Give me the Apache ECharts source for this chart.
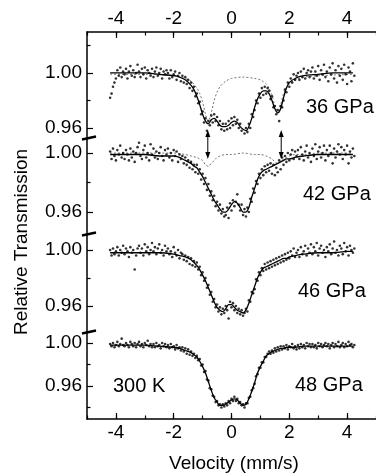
<!DOCTYPE html>
<html>
<head>
<meta charset="utf-8">
<script src="https://cdn.jsdelivr.net/npm/echarts@6/dist/echarts.min.js"></script>
<style>
  html, body { margin: 0; padding: 0; background: #fff; }
  #chart { width: 376px; height: 475px; }
</style>
</head>
<body>
<div id="chart"></div>
<script>
// velocity of every measured channel (mm/s)
const velocity = [
  -4.2,-4.15,-4.1,-4.05,-4,-3.95,-3.9,-3.85,-3.8,-3.75,
  -3.7,-3.65,-3.6,-3.55,-3.5,-3.45,-3.4,-3.35,-3.3,-3.25,
  -3.2,-3.15,-3.1,-3.05,-3,-2.95,-2.9,-2.85,-2.8,-2.75,
  -2.7,-2.65,-2.6,-2.55,-2.5,-2.45,-2.4,-2.35,-2.3,-2.25,
  -2.2,-2.15,-2.1,-2.05,-2,-1.95,-1.9,-1.85,-1.8,-1.75,
  -1.7,-1.65,-1.6,-1.55,-1.5,-1.45,-1.4,-1.35,-1.3,-1.25,
  -1.2,-1.15,-1.1,-1.05,-1,-0.95,-0.9,-0.85,-0.8,-0.75,
  -0.7,-0.65,-0.6,-0.55,-0.5,-0.45,-0.4,-0.35,-0.3,-0.25,
  -0.2,-0.15,-0.1,-0.05,0,0.05,0.1,0.15,0.2,0.25,
  0.3,0.35,0.4,0.45,0.5,0.55,0.6,0.65,0.7,0.75,
  0.8,0.85,0.9,0.95,1,1.05,1.1,1.15,1.2,1.25,
  1.3,1.35,1.4,1.45,1.5,1.55,1.6,1.65,1.7,1.75,
  1.8,1.85,1.9,1.95,2,2.05,2.1,2.15,2.2,2.25,
  2.3,2.35,2.4,2.45,2.5,2.55,2.6,2.65,2.7,2.75,
  2.8,2.85,2.9,2.95,3,3.05,3.1,3.15,3.2,3.25,
  3.3,3.35,3.4,3.45,3.5,3.55,3.6,3.65,3.7,3.75,
  3.8,3.85,3.9,3.95,4,4.05,4.1,4.15,4.2,4.25
];

// measured transmission, in thousandths
const pts36 = [
  982,985,990,993,996,1002,998,1004,997,1001,
  999,1003,996,1001,1005,998,1002,997,1000,1006,
  1001,997,1003,999,1004,996,1002,1000,998,1003,
  997,1001,1004,998,1000,1003,996,1001,999,1002,
  1000,996,1002,997,999,1001,995,998,1000,994,
  998,993,997,992,995,989,993,987,990,983,
  985,978,979,970,972,964,967,958,965,962,
  969,964,970,965,968,962,965,959,963,958,
  963,959,965,960,967,962,968,963,966,960,
  963,958,952,956,960,957,963,960,970,968,
  973,980,978,985,982,989,984,990,985,989,
  987,981,983,975,976,970,973,965,976,975,
  980,988,986,993,990,996,993,999,995,998,
  1000,995,1001,997,1003,996,1000,1002,997,1001,
  1004,996,1001,998,1005,995,1002,999,1006,997,
  1001,994,1004,999,1007,996,1002,993,1005,998,
  1003,995,1006,999,992,1004,1001,994,1007,998
];
const pts42 = [
  1001,996,1003,998,995,1002,999,1005,997,1000,
  996,1002,999,995,1003,997,1001,994,1000,1004,
  1007,998,996,1002,1005,997,1000,995,1006,999,
  1003,997,1001,996,1000,1004,998,995,1002,999,
  1003,997,1000,995,1002,998,1001,994,999,996,
  998,993,997,992,995,990,994,989,992,987,
  992,986,989,982,986,979,983,975,979,971,
  974,968,971,964,967,961,965,959,962,957,
  958,963,956,966,961,968,964,967,972,965,
  961,965,958,962,957,963,960,969,967,976,
  973,981,979,986,983,989,985,991,987,992,
  988,993,986,992,985,990,987,995,989,997,
  992,998,994,1000,995,999,1002,996,1001,998,
  1002,996,1004,999,995,1001,1005,997,1000,994,
  1003,998,1006,996,1001,1004,997,1000,1005,995,
  1002,998,1005,1000,993,1003,997,1001,1006,999,
  1004,996,1002,999,1005,993,1001,997,1003,998
];
const pts46 = [
  1000,996,1001,997,999,1002,996,1000,998,1003,
  997,1001,999,995,1002,998,1000,986,996,1001,
  1003,998,1001,996,1004,999,1002,997,1000,1005,
  999,1002,997,1001,1004,998,1000,996,1003,999,
  1001,997,999,995,1002,998,996,1000,994,998,
  997,993,996,992,995,990,994,989,992,988,
  991,986,988,982,984,978,980,973,975,968,
  970,963,965,959,961,956,959,954,958,955,
  960,957,951,963,959,962,957,960,955,958,
  954,957,953,955,958,956,964,963,970,969,
  972,979,978,984,982,987,985,990,986,991,
  987,992,988,993,989,994,990,995,991,996,
  992,997,993,998,994,999,996,1001,995,998,
  1000,995,1002,997,999,1003,996,1001,998,1004,
  997,1002,999,1005,996,1001,1003,998,1000,995,
  1002,999,1004,997,1001,1006,998,1000,996,1003,
  1001,997,1005,999,1002,996,1003,1000,998,1001
];
const pts48 = [
  999,997,1000,996,998,1001,997,999,1004,998,
  997,1000,998,996,1001,999,997,1000,996,999,
  1001,997,999,996,1000,998,1002,997,999,996,
  999,996,1000,997,998,995,1000,997,999,996,
  998,995,999,996,997,994,998,995,996,993,
  996,992,995,990,994,989,992,988,990,986,
  988,984,985,979,980,973,974,966,965,958,
  957,951,950,945,946,942,943,940,943,941,
  944,942,946,944,948,946,950,946,948,944,
  945,942,943,940,944,944,949,950,956,958,
  962,969,971,977,977,982,982,987,987,990,
  992,990,993,991,995,992,996,993,997,994,
  997,995,998,994,997,996,999,995,997,994,
  998,995,999,996,998,995,1000,997,999,996,
  999,996,998,995,1000,997,999,996,998,1000,
  997,999,995,998,1000,996,999,997,1001,996,
  998,1000,996,999,997,1001,998,999,996,998
];

// fitted envelopes, in thousandths
const fitVel = [-4.2,-4,-3.5,-3,-2.5,-2,-1.8,-1.6,-1.4,-1.3,-1.2,-1.1,-1,-0.9,-0.8,-0.7,-0.6,-0.5,-0.4,-0.3,-0.2,-0.1,0,0.1,0.2,0.3,0.4,0.5,0.6,0.7,0.8,0.9,1,1.1,1.2,1.3,1.4,1.5,1.6,1.7,1.8,1.9,2,2.2,2.5,3,3.5,4,4.2];
const fit36 = [1000,1000,1000,1000,999,998,997,995,991,988,983,977,970,965,963,966,967,965,962,961,961,962,964,965,964,961,959,958,961,967,975,981,985,987,987,985,980,974,971,974,982,989,993,996,998,999,1000,1000,1000];
const fit42 = [999,999,999,999,998,998,997,995,993,991,990,987,984,980,976,972,968,965,962,960,960,962,965,967,966,963,960,960,963,970,976,982,986,988,989,990,991,992,993,994,995,996,996,997,998,999,999,999,999];
const fit46 = [998,998,998,998,998,997,996,995,993,991,989,986,982,978,973,968,963,959,957,956,958,961,961,959,957,956,955,957,962,968,974,980,984,987,988,989,990,991,992,993,994,994,995,996,997,998,998,999,999];
const fit48 = [998,998,998,998,997,996,995,993,991,989,987,983,978,972,964,956,949,945,942,942,943,945,947,948,947,944,942,943,948,955,963,972,978,983,988,990,992,993,994,995,995,996,996,996,997,997,997,997,997];

// outer doublet subspectrum (dotted), in thousandths
const compVel = [-4.2,-3,-2,-1.6,-1.4,-1.2,-1.1,-1,-0.9,-0.8,-0.7,-0.6,-0.5,-0.4,-0.2,0,0.4,0.8,1,1.2,1.3,1.4,1.5,1.6,1.7,1.8,1.9,2,2.2,2.5,3,4.2];
const comp36 = [999,999,998,996,994,989,985,979,970,965,971,980,986,990,994,996,997,996,995,992,989,984,976,972,977,985,989,992,995,997,998,999];
const comp42 = [1000,1000,1000,999,998,997,996,995,992,991,993,995,997,998,999,999,1000,999,999,998,997,996,994,993,994,996,997,998,999,999,1000,1000];

const panelNames = ['36 GPa', '42 GPa', '46 GPa', '48 GPa'];
const xTicks = [-4, -2, 0, 2, 4];
const yLabels = [0.96, 1.00];
const yMinor = [0.94, 0.98, 1.02];
const arrowVel = [-0.82, 1.72];

const FONT = 'Liberation Sans, Arial, sans-serif';
const grids = [
  {left: 87, width: 296, top: 32, height: 106},
  {left: 87, width: 296, top: 138, height: 96},
  {left: 87, width: 296, top: 234, height: 98},
  {left: 87, width: 296, top: 332, height: 87}
];
const yRange = [[0.9527, 1.0298], [0.9451, 1.0102], [0.9414, 1.0114], [0.9293, 1.0102]];
const labelPos = [[306, 107], [303, 194], [298, 291], [295, 385]];

const points = [pts36, pts42, pts46, pts48];
const fits = [fit36, fit42, fit46, fit48];
const comps = [comp36, comp42];

const axisLine = {show: true, onZero: false, lineStyle: {color: '#000', width: 1.5}};
const noLine = {show: false, onZero: false};
const tickStyle = {color: '#000', width: 1.2};
const xAxis = [];
const yAxis = [];
grids.forEach((g, i) => {
  const shown = i === 0 || i === 3;
  xAxis.push({
    gridIndex: i, type: 'value', min: -5, max: 5, interval: 1,
    position: i === 0 ? 'top' : 'bottom', show: shown,
    axisLine,
    axisTick: {inside: true, length: 3.5, lineStyle: tickStyle},
    axisLabel: {customValues: xTicks, fontSize: 19, fontFamily: FONT, color: '#000', margin: 4},
    splitLine: {show: false}
  });
  yAxis.push({
    gridIndex: i, type: 'value', min: yRange[i][0], max: yRange[i][1], position: 'left',
    axisLine,
    axisTick: {inside: true, length: 6, customValues: yLabels, lineStyle: tickStyle},
    axisLabel: {customValues: yLabels, formatter: v => v.toFixed(2), fontSize: 19, fontFamily: FONT, color: '#000', margin: 5},
    splitLine: {show: false}
  });
});
// longer ticks at the labelled velocities
[0, 3].forEach(i => {
  xAxis.push({
    gridIndex: i, type: 'value', min: -5, max: 5, position: i === 0 ? 'top' : 'bottom',
    axisLine: noLine,
    axisTick: {inside: true, length: 6, customValues: xTicks, lineStyle: tickStyle},
    axisLabel: {show: false}, splitLine: {show: false}
  });
});
// short ticks between the labels
grids.forEach((g, i) => {
  yAxis.push({
    gridIndex: i, type: 'value', min: yRange[i][0], max: yRange[i][1], position: 'left',
    axisLine: noLine,
    axisTick: {inside: true, length: 3.5, lineStyle: tickStyle,
      customValues: yMinor.filter(v => v > yRange[i][0] && v < yRange[i][1])},
    axisLabel: {show: false}, splitLine: {show: false}
  });
});

const series = [];
points.forEach((pts, i) => {
  series.push({
    type: 'scatter', xAxisIndex: i, yAxisIndex: i,
    symbol: 'circle', symbolSize: 2.6,
    itemStyle: {color: '#000'},
    data: velocity.map((v, k) => [v, pts[k] / 1000])
  });
  series.push({
    type: 'line', xAxisIndex: i, yAxisIndex: i,
    showSymbol: false, smooth: 0.3,
    lineStyle: {color: '#000', width: 1.3},
    data: fitVel.map((v, k) => [v, fits[i][k] / 1000]), z: 3
  });
});
comps.forEach((c, i) => {
  series.push({
    type: 'line', xAxisIndex: i, yAxisIndex: i,
    showSymbol: false, smooth: 0.3,
    lineStyle: {color: '#666', width: 0.9, type: [2, 2]},
    data: compVel.map((v, k) => [v, c[k] / 1000]), z: 1
  });
});

const graphic = [];
panelNames.forEach((name, i) => {
  graphic.push({
    type: 'text', x: labelPos[i][0], y: labelPos[i][1],
    style: {text: name, font: '20px ' + FONT, fill: '#000', textVerticalAlign: 'middle'}
  });
});
graphic.push({
  type: 'text', x: 113, y: 386,
  style: {text: '300 K', font: '20px ' + FONT, fill: '#000', textVerticalAlign: 'middle'}
});
graphic.push({
  type: 'text', x: 234, y: 464,
  style: {text: 'Velocity (mm/s)', font: '19px ' + FONT, fill: '#000', textAlign: 'center', textVerticalAlign: 'middle'}
});
graphic.push({
  type: 'text', x: 22, y: 242, rotation: Math.PI / 2,
  style: {text: 'Relative Transmission', font: '19px ' + FONT, fill: '#000', textAlign: 'center', textVerticalAlign: 'middle'}
});
// axis break marks between the panels
grids.slice(1).forEach(g => {
  graphic.push({
    type: 'line', shape: {x1: 82, y1: g.top + 1.5, x2: 96, y2: g.top - 1.5},
    style: {stroke: '#000', lineWidth: 2.6}
  });
});

const chart = echarts.init(document.getElementById('chart'), null, {renderer: 'canvas'});
chart.setOption({
  animation: false,
  backgroundColor: '#fff',
  grid: grids,
  xAxis, yAxis, series, graphic
});

// double-headed arrows linking the outer doublet lines of 36 and 42 GPa
const arrowGraphic = [];
arrowVel.forEach(v => {
  const top = chart.convertToPixel({gridIndex: 0}, [v, 0.9585]);
  const bot = chart.convertToPixel({gridIndex: 1}, [v, 0.996]);
  const x = top[0];
  arrowGraphic.push({
    type: 'line', shape: {x1: x, y1: top[1] + 5, x2: x, y2: bot[1] - 5},
    style: {stroke: '#000', lineWidth: 1}
  });
  arrowGraphic.push({
    type: 'polygon', shape: {points: [[x, top[1]], [x - 2.5, top[1] + 7], [x + 2.5, top[1] + 7]]},
    style: {fill: '#000'}
  });
  arrowGraphic.push({
    type: 'polygon', shape: {points: [[x, bot[1]], [x - 2.5, bot[1] - 7], [x + 2.5, bot[1] - 7]]},
    style: {fill: '#000'}
  });
});
chart.setOption({graphic: graphic.concat(arrowGraphic)});
</script>
</body>
</html>
